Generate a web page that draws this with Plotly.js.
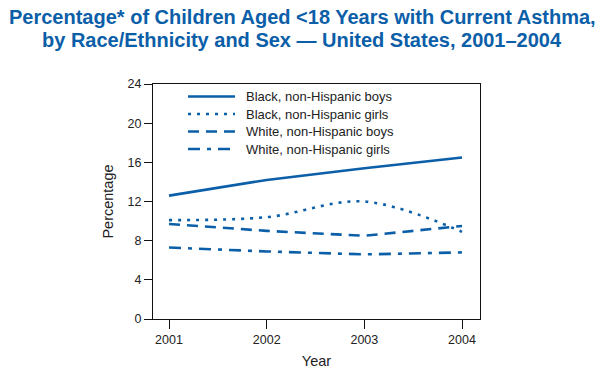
<!DOCTYPE html>
<html>
<head>
<meta charset="utf-8">
<script src="https://cdn.plot.ly/plotly-3.0.1.min.js"></script>
<style>html,body{margin:0;padding:0;background:#fff;}#chart{width:604px;height:374px;}</style>
</head>
<body>
<div id="chart"></div>
<script>
var years = [2001, 2002, 2003, 2004];
var seriesNames = ["Black, non-Hispanic boys", "Black, non-Hispanic girls", "White, non-Hispanic boys", "White, non-Hispanic girls"];
var blackBoys = [12.6, 14.2, 15.4, 16.5];
var blackGirls = [10.1, 10.4, 12.0, 8.9];
var whiteBoys = [9.7, 9.0, 8.5, 9.5];
var whiteGirls = [7.3, 6.9, 6.6, 6.8];
var yTicks = [0, 4, 8, 12, 16, 20, 24];
var titleLines = ["Percentage* of Children Aged <18 Years with Current Asthma,", "by Race/Ethnicity and Sex \u2014 United States, 2001\u20132004"];

var blue = "#0b5ea8";
var dashes = ["solid", "3px,6px", "11px,7px", "12px,7px,4px,7px"];
var values = [blackBoys, blackGirls, whiteBoys, whiteGirls];

// plot area geometry (pixels) used to place the custom legend and title
var L = 153, T = 84, W = 327, H = 235;
function px2x(p) { return (p - L) / W; }
function px2y(p) { return (T + H - p) / H; }

var traces = values.map(function (v, i) {
  return {
    x: years, y: v, type: "scatter", mode: "lines", name: seriesNames[i],
    line: {color: blue, width: 2.6, dash: dashes[i], shape: i === 1 ? "spline" : "linear"},
    hoverinfo: "skip", showlegend: false
  };
});

var legendRows = [96.5, 114, 131.5, 149];
var shapes = [], annotations = [];
seriesNames.forEach(function (n, i) {
  shapes.push({type: "line", xref: "paper", yref: "paper",
    x0: px2x(188), x1: px2x(235), y0: px2y(legendRows[i]), y1: px2y(legendRows[i]),
    line: {color: blue, width: 2.6, dash: dashes[i]}});
  annotations.push({xref: "paper", yref: "paper", x: px2x(244), y: px2y(legendRows[i]),
    xanchor: "left", yanchor: "middle", showarrow: false, text: n,
    font: {size: 13, color: "#222"}});
});
[17, 40].forEach(function (py, i) {
  annotations.push({xref: "paper", yref: "paper", x: px2x(302), y: px2y(py),
    xanchor: "center", yanchor: "middle", showarrow: false, text: titleLines[i],
    font: {size: 20, color: blue, weight: "bold"}});
});

var layout = {
  width: 604, height: 374,
  margin: {l: L, r: 604 - L - W, t: T, b: 374 - T - H, pad: 0},
  paper_bgcolor: "#fff", plot_bgcolor: "#fff",
  font: {family: "Liberation Sans, Arial, sans-serif", color: "#222", size: 12},
  showlegend: false,
  shapes: shapes,
  annotations: annotations,
  xaxis: {
    range: [2000.836, 2004.184], tickvals: years, ticktext: years.map(String),
    ticks: "outside", ticklen: 9, tickcolor: "#111", tickwidth: 1,
    showline: true, linecolor: "#111", linewidth: 1, mirror: true,
    showgrid: false, zeroline: false, tickfont: {size: 12.5, color: "#222"},
    title: {text: "Year", font: {size: 14.5, color: "#222"}, standoff: 9}
  },
  yaxis: {
    range: [0, 24], tickvals: yTicks, ticktext: yTicks.map(String),
    ticks: "outside", ticklen: 8, tickcolor: "#111", tickwidth: 1,
    showline: true, linecolor: "#111", linewidth: 1, mirror: true,
    showgrid: false, zeroline: false, tickfont: {size: 12.5, color: "#222"},
    title: {text: "Percentage", font: {size: 14.5, color: "#222"}, standoff: 10}
  }
};

Plotly.newPlot("chart", traces, layout, {staticPlot: true, displayModeBar: false});
</script>
</body>
</html>
